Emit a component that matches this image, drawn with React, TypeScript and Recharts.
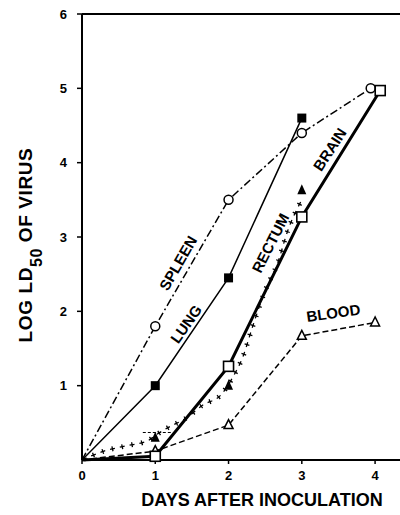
import React from 'react';
import { ComposedChart, Line, XAxis, YAxis, ReferenceLine, ReferenceDot } from 'recharts';

// ---- data ----
const xTicks = [0, 1, 2, 3, 4];
const yTicks = [1, 2, 3, 4, 5, 6];

const spleenDays = [0, 1, 2, 3, 3.94];
const spleenVals = [0, 1.8, 3.5, 4.4, 5.0];

const lungDays = [0, 1, 2, 3];
const lungVals = [0, 1.0, 2.45, 4.6];

const brainDays = [0, 1, 2, 3, 4.07];
const brainVals = [0, 0.05, 1.26, 3.27, 4.97];

const rectumDays = [1, 2, 3];
const rectumVals = [0.3, 1.0, 3.63];

const rectumCurveDays = [0, 0.3, 0.6, 0.9, 1.0, 1.2, 1.4, 1.65, 1.9, 2.05, 2.2, 2.33, 2.5, 2.67, 2.81, 3.0];
const rectumCurveVals = [0, 0.12, 0.19, 0.26, 0.33, 0.45, 0.55, 0.74, 0.88, 1.1, 1.4, 1.8, 2.28, 2.65, 3.09, 3.5];

const bloodDays = [0, 1, 2, 3, 4];
const bloodVals = [0, 0.12, 0.47, 1.67, 1.85];

const rangeMarkDays = [0.83, 1.24];
const rangeMarkVal = 0.37;

const seriesLabels = ['SPLEEN', 'LUNG', 'RECTUM', 'BRAIN', 'BLOOD'];
const labelDays = [1.31, 1.42, 2.57, 3.38, 3.43];
const labelVals = [2.65, 1.83, 2.92, 4.18, 1.98];
const labelAngles = [-60, -55, -63, -57, -8];

const zip = (xs: number[], ys: number[]) => xs.map((x, i) => ({ x, y: ys[i] }));

const spleenData = zip(spleenDays, spleenVals);
const lungData = zip(lungDays, lungVals);
const brainData = zip(brainDays, brainVals);
const rectumData = zip(rectumDays, rectumVals);
const rectumCurveData = zip(rectumCurveDays, rectumCurveVals);
const bloodData = zip(bloodDays, bloodVals);

const FONT = '"Liberation Sans", Arial, sans-serif';

const empty = (k: any) => <g key={k} />;

const OpenCircle = (p: any) => {
  if (p.payload.x === 0) return empty(p.index);
  return <circle key={p.index} cx={p.cx} cy={p.cy} r={4.5} fill="#fff" stroke="#000" strokeWidth={1.5} />;
};
const FilledSquare = (p: any) => {
  if (p.payload.x === 0) return empty(p.index);
  return <rect key={p.index} x={p.cx - 4.5} y={p.cy - 4.5} width={9} height={9} fill="#000" />;
};
const OpenSquare = (p: any) => {
  if (p.payload.x === 0) return empty(p.index);
  return <rect key={p.index} x={p.cx - 5} y={p.cy - 5} width={10} height={10} fill="#fff" stroke="#000" strokeWidth={1.6} />;
};
const FilledTriangle = (p: any) => (
  <polygon key={p.index} points={`${p.cx},${p.cy - 6} ${p.cx - 4.5},${p.cy + 4} ${p.cx + 4.5},${p.cy + 4}`} fill="#000" />
);
const OpenTriangle = (p: any) => {
  if (p.payload.x === 0) return empty(p.index);
  return (
    <polygon key={p.index} points={`${p.cx},${p.cy - 5.5} ${p.cx - 4.5},${p.cy + 3.5} ${p.cx + 4.5},${p.cy + 3.5}`} fill="#fff" stroke="#000" strokeWidth={1.5} />
  );
};

const RotLabel = (text: string, angle: number) => (props: any) => {
  const vb = props.viewBox || {};
  const cx = vb.x + (vb.width || 0) / 2;
  const cy = vb.y + (vb.height || 0) / 2;
  return (
    <text
      x={cx}
      y={cy}
      textAnchor="middle"
      dominantBaseline="central"
      transform={`rotate(${angle}, ${cx}, ${cy})`}
      fontFamily={FONT}
      fontWeight="bold"
      fontSize={15}
      fill="#000"
    >
      {text}
    </text>
  );
};

const XLabel = () => (
  <text x={262} y={506} textAnchor="middle" fontFamily={FONT} fontWeight="bold" fontSize={18} fill="#000">
    DAYS AFTER INOCULATION
  </text>
);

const YLabel = () => (
  <text
    x={32}
    y={245}
    textAnchor="middle"
    transform="rotate(-90, 32, 245)"
    fontFamily={FONT}
    fontWeight="bold"
    fontSize={19}
    letterSpacing={0.6}
    fill="#000"
  >
    <tspan>LOG LD</tspan>
    <tspan fontSize={16} dy={10}>50</tspan>
    <tspan dy={-10}>  OF VIRUS</tspan>
  </text>
);

const tickStyle = { fill: '#000', fontSize: 13, fontWeight: 'bold', fontFamily: FONT } as any;

export default function App() {
  return (
    <div style={{ position: 'absolute', left: 0, top: 0, width: 400, height: 515, background: '#fff' }}>
      <ComposedChart width={400} height={515} margin={{ top: 14, right: 0, bottom: 0, left: 0 }}>
        <XAxis
          type="number"
          dataKey="x"
          domain={[0, 4.34]}
          ticks={xTicks}
          allowDataOverflow
          height={55}
          axisLine={{ stroke: '#000', strokeWidth: 2 }}
          tickLine={{ stroke: '#000', strokeWidth: 1.5 }}
          tickSize={4}
          tickMargin={7}
          tick={tickStyle}
          label={{ content: XLabel }}
        />
        <YAxis
          type="number"
          dataKey="y"
          domain={[0, 6]}
          ticks={yTicks}
          width={82}
          axisLine={{ stroke: '#000', strokeWidth: 2 }}
          tickLine={{ stroke: '#000', strokeWidth: 1.5 }}
          tickSize={5}
          tickMargin={10}
          tick={tickStyle}
          label={{ content: YLabel }}
        />
        <ReferenceLine y={6} stroke="#000" strokeWidth={2} ifOverflow="visible" />
        <ReferenceLine
          segment={[{ x: rangeMarkDays[0], y: rangeMarkVal }, { x: rangeMarkDays[1], y: rangeMarkVal }]}
          stroke="#000"
          strokeWidth={1}
          strokeDasharray="3 2"
        />

        {/* rectum curve drawn as crosses: thin dash + thick short dash */}
        <Line data={rectumCurveData} dataKey="y" type="monotone" stroke="#000" strokeWidth={1.3}
          strokeDasharray="5 5" dot={false} activeDot={false} isAnimationActive={false} />
        <Line data={rectumCurveData} dataKey="y" type="monotone" stroke="#000" strokeWidth={5}
          strokeDasharray="1.3 8.7" strokeDashoffset={-1.85} dot={false} activeDot={false} isAnimationActive={false} />

        <Line data={bloodData} dataKey="y" type="linear" stroke="#000" strokeWidth={1.5}
          strokeDasharray="6 3" dot={OpenTriangle} activeDot={false} isAnimationActive={false} />
        <Line data={spleenData} dataKey="y" type="linear" stroke="#000" strokeWidth={1.5}
          strokeDasharray="8 3 2 3" dot={OpenCircle} activeDot={false} isAnimationActive={false} />
        <Line data={lungData} dataKey="y" type="linear" stroke="#000" strokeWidth={1.5}
          dot={FilledSquare} activeDot={false} isAnimationActive={false} />
        <Line data={brainData} dataKey="y" type="linear" stroke="#000" strokeWidth={3}
          dot={OpenSquare} activeDot={false} isAnimationActive={false} />
        <Line data={rectumData} dataKey="y" type="linear" stroke="none"
          dot={FilledTriangle} activeDot={false} isAnimationActive={false} />

        {seriesLabels.map((t, i) => (
          <ReferenceDot key={t} x={labelDays[i]} y={labelVals[i]} r={0} stroke="none" fill="none"
            label={{ content: RotLabel(t, labelAngles[i]) }} />
        ))}
      </ComposedChart>
    </div>
  );
}
